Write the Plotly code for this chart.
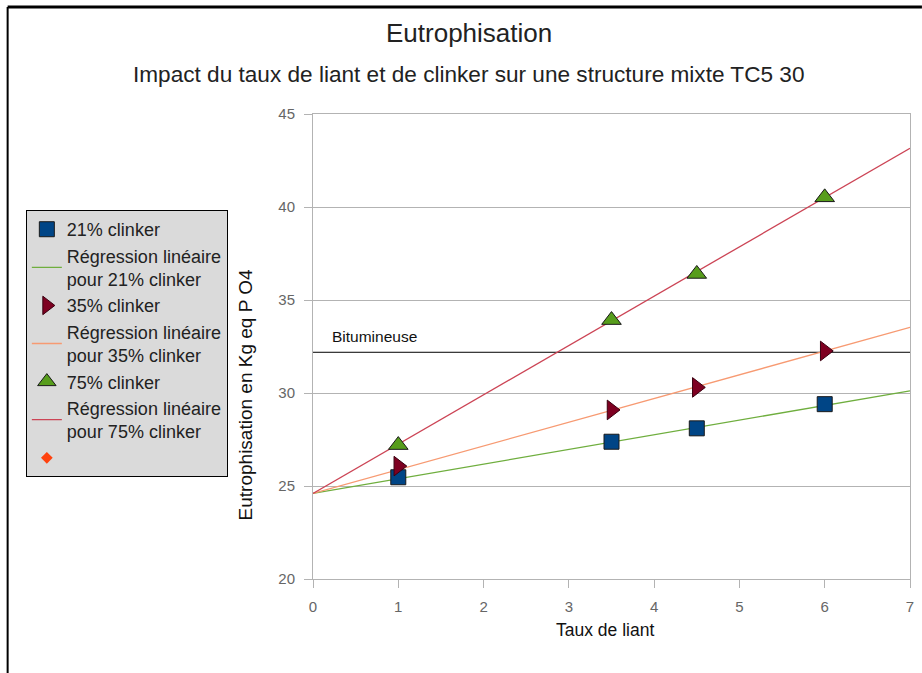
import plotly.graph_objects as go

# ---- data ----
x_liant = [1, 3.5, 4.5, 6]
y_21 = [25.47, 27.38, 28.1, 29.4]
y_35 = [26.07, 29.09, 30.3, 32.26]
y_75 = [27.2, 33.92, 36.4, 40.52]
trend_x = [0, 7]
trend_21 = [24.6, 30.12]
trend_35 = [24.6, 33.53]
trend_75 = [24.6, 43.16]
bitumineuse_x = [0, 7]
bitumineuse_y = [32.19, 32.19]
y_ticks = [20, 25, 30, 35, 40, 45]
x_ticks = [0, 1, 2, 3, 4, 5, 6, 7]

FONT = "Liberation Sans, Arial, sans-serif"

fig = go.Figure()

fig.add_trace(go.Scatter(x=bitumineuse_x, y=bitumineuse_y, mode="lines",
                         line=dict(color="black", width=1), showlegend=False,
                         hoverinfo="skip"))

fig.add_trace(go.Scatter(x=trend_x, y=trend_21, mode="lines",
                         line=dict(color="#6fae3e", width=1.3), showlegend=False))
fig.add_trace(go.Scatter(x=trend_x, y=trend_35, mode="lines",
                         line=dict(color="#f79a72", width=1.3), showlegend=False))
fig.add_trace(go.Scatter(x=trend_x, y=trend_75, mode="lines",
                         line=dict(color="#cc4455", width=1.3), showlegend=False))

fig.add_trace(go.Scatter(x=x_liant, y=y_21, mode="markers", name="21% clinker",
                         marker=dict(symbol="square", size=15, color="#004586",
                                     line=dict(color="#1a1a1a", width=1))))
fig.add_trace(go.Scatter(x=[None], y=[None], mode="lines",
                         name="Régression linéaire<br>pour 21% clinker",
                         line=dict(color="#6fae3e", width=1.3)))
fig.add_trace(go.Scatter(x=x_liant, y=y_35, mode="markers", name="35% clinker",
                         marker=dict(symbol="triangle-right", size=17, color="#7e0021",
                                     line=dict(color="#3a0010", width=1))))
fig.add_trace(go.Scatter(x=[None], y=[None], mode="lines",
                         name="Régression linéaire<br>pour 35% clinker",
                         line=dict(color="#f79a72", width=1.3)))
fig.add_trace(go.Scatter(x=x_liant, y=y_75, mode="markers", name="75% clinker",
                         marker=dict(symbol="triangle-up", size=17, color="#579d1c",
                                     line=dict(color="#1a1a1a", width=1))))
fig.add_trace(go.Scatter(x=[None], y=[None], mode="lines",
                         name="Régression linéaire<br>pour 75% clinker",
                         line=dict(color="#cc4455", width=1.3)))
fig.add_trace(go.Scatter(x=[None], y=[None], mode="markers", name=" ",
                         marker=dict(symbol="diamond", size=9, color="#ff420e")))

fig.update_layout(
    width=922, height=673, autosize=False,
    paper_bgcolor="white", plot_bgcolor="white",
    margin=dict(l=313, r=8, t=114, b=94),
    font=dict(family=FONT, color="#222"),
    showlegend=True,
    legend=dict(x=-0.481, y=0.7935, xanchor="left", yanchor="top",
                bgcolor="#dadada", bordercolor="black", borderwidth=1,
                font=dict(size=18, color="#222", family=FONT),
                tracegroupgap=0, itemwidth=30),
    xaxis=dict(range=[0, 7], tickvals=x_ticks, showgrid=False,
               showline=True, linecolor="#b3b3b3", mirror=True,
               ticks="outside", ticklen=8, tickcolor="#b3b3b3",
               ticklabelstandoff=6,
               tickfont=dict(size=15, color="#666"), zeroline=False),
    yaxis=dict(range=[20, 45], tickvals=y_ticks, showgrid=True, gridcolor="#b3b3b3",
               showline=True, linecolor="#b3b3b3", mirror=True,
               ticks="outside", ticklen=8, tickcolor="#b3b3b3",
               ticklabelstandoff=6,
               tickfont=dict(size=15, color="#666"), zeroline=False),
    annotations=[
        dict(text="Eutrophisation", x=0.261, y=1.174, xref="paper", yref="paper",
             xanchor="center", yanchor="middle", showarrow=False,
             font=dict(size=26, color="#222")),
        dict(text="Impact du taux de liant et de clinker sur une structure mixte TC5 30",
             x=0.261, y=1.084, xref="paper", yref="paper",
             xanchor="center", yanchor="middle", showarrow=False,
             font=dict(size=22.6, color="#222")),
        dict(text="Eutrophisation en Kg eq P O4", x=-0.113, y=0.396, xref="paper",
             yref="paper", textangle=-90, xanchor="center", yanchor="middle",
             showarrow=False, font=dict(size=19, color="#111")),
        dict(text="Taux de liant", x=0.489, y=-0.11, xref="paper", yref="paper",
             xanchor="center", yanchor="middle", showarrow=False,
             font=dict(size=17.5, color="#111")),
        dict(text="Bitumineuse", x=0.2, y=32.19, xref="x", yref="y",
             xanchor="left", yanchor="bottom", yshift=5, showarrow=False,
             font=dict(size=15.5, color="#111")),
    ],
    shapes=[
        dict(type="line", xref="paper", yref="paper", x0=-0.5115, x1=1.02,
             y0=1.230, y1=1.230, line=dict(color="black", width=3)),
        dict(type="line", xref="paper", yref="paper", x0=-0.5115, x1=-0.5115,
             y0=1.230, y1=-0.21, line=dict(color="black", width=2)),
    ],
)

fig.write_html("out.html", config={"displayModeBar": False},
               post_script="document.body.style.margin='0';document.body.style.overflow='hidden';")
